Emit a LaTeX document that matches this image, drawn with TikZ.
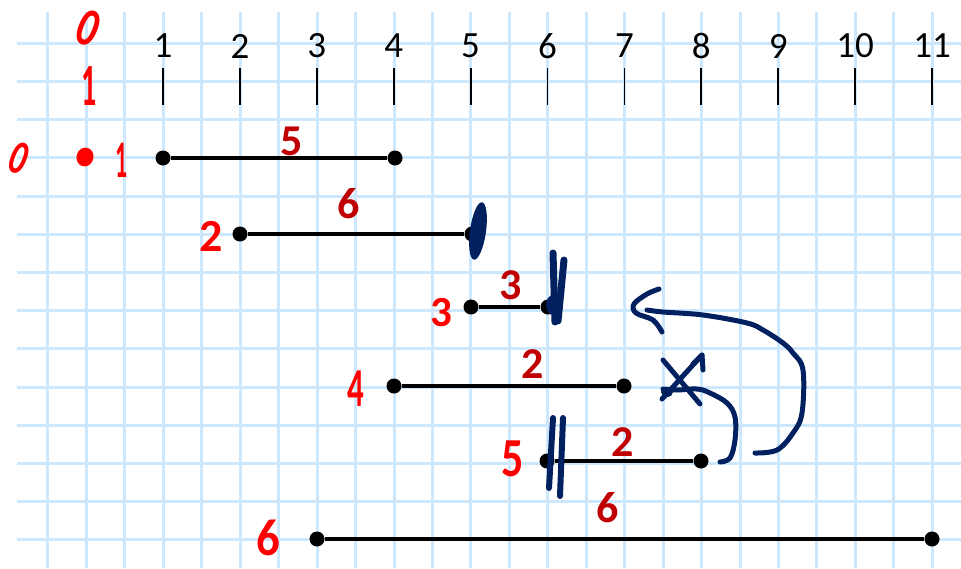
\documentclass[tikz,border=0pt]{standalone}
\usepackage{fontspec}
\setmainfont{Carlito}
\definecolor{gridblue}{RGB}{205,232,252}
\definecolor{navy}{RGB}{0,32,96}
\definecolor{redhand}{RGB}{255,0,0}
\definecolor{darkred}{RGB}{192,0,0}
\newcommand{\fsz}[1]{\fontsize{#1}{#1}\selectfont}
\tikzset{
  gridline/.style={draw=gridblue, line width=3pt},
  tickline/.style={draw=black, line width=1.8pt},
  ticklabel/.style={inner sep=0pt, font=\fsz{37}},
  enddot/.style={circle, fill=black, inner sep=0pt, minimum size=15pt},
  seg/.style={draw=black, line width=3.2pt},
  weight/.style={inner sep=0pt, text=darkred, font=\fsz{44}\bfseries},
  hand/.style={inner sep=0pt, text=redhand},
  navystroke/.style={draw=navy, line width=5pt, line cap=round, line join=round},
}
\begin{document}
\begin{tikzpicture}[x=1pt,y=-1pt]
\useasboundingbox (0,0) rectangle (961,568);
\fill[white] (0,0) rectangle (961,568);
% grid
\foreach \k in {-3,...,20}
  \draw[gridline] ({163.3+38.45*\k},12) -- ({163.3+38.45*\k},568);
\foreach \k in {0,...,13}
  \draw[gridline] (17,{43.3+38.2*\k}) -- (961,{43.3+38.2*\k});
% axis ticks
\foreach \i in {1,...,11}{
  \node[ticklabel] (t\i) at ({163+76.9*(\i-1)},46) {\i};
  \coordinate (tt\i) at ({163+76.9*(\i-1)},68);
  \coordinate (tb\i) at ({163+76.9*(\i-1)},105);
  \draw[tickline] (tt\i) -- (tb\i);
}
% interval end points
\node[enddot] (a1) at (163,158) {};
\node[enddot] (b1) at (395,158) {};
\node[enddot] (a2) at (240,234) {};
\node[enddot] (b2) at (472,234) {};
\node[enddot] (a3) at (471,307) {};
\node[enddot] (b3) at (548,307) {};
\node[enddot] (a4) at (394,386) {};
\node[enddot] (b4) at (624,386) {};
\node[enddot] (a5) at (547,461) {};
\node[enddot] (b5) at (701,461) {};
\node[enddot] (a6) at (317,539) {};
\node[enddot] (b6) at (932,539) {};
\foreach \r in {1,...,6} \draw[seg] (a\r) -- (b\r);
% weights
\node[weight] (w1) at (292,141) {5};
\node[weight] (w2) at (349,204) {6};
\node[weight] (w3) at (511,285) {3};
\node[weight] (w4) at (533,364) {2};
\node[weight] (w5) at (623,442) {2};
\node[weight] (w6) at (608,508) {6};
% red handwriting
\node[hand, font=\fsz{54}\bfseries, rotate=-22, xscale=0.75] (h0) at (89,28) {0};
\node[hand, font=\fsz{60}\bfseries, xscale=0.5] (h1) at (89,86) {1};
\node[hand, font=\fsz{48}\bfseries, rotate=-22, xscale=0.7] (r0) at (19,158) {0};
\fill[redhand, rotate around={-15:(85,157)}] (85,157) ellipse (8.5 and 9.5);
\node[hand, font=\fsz{53}\bfseries, xscale=0.45] (r1) at (122,160) {1};
\node[hand, font=\fsz{46}\bfseries] (l2) at (211,236) {2};
\node[hand, font=\fsz{43}\bfseries] (l3) at (441,313) {3};
\node[hand, font=\fsz{55}\bfseries, xscale=0.6] (l4) at (356,389) {4};
\node[hand, font=\fsz{55}\bfseries, xscale=0.8] (l5) at (513,459) {5};
\node[hand, font=\fsz{52}\bfseries, xscale=0.9] (l6) at (268,538) {6};
% navy marks on row ends
\fill[navy, rotate around={-8:(478,231)}] (478,231) ellipse (8 and 29);
\draw[navystroke, line width=7pt] (553,253) -- (555,322);
\draw[navystroke, line width=7pt] (564,260) -- (558,321);
\fill[navy] (553,305) ellipse (7 and 10);
\draw[navystroke, line width=6pt] (553,418) -- (549,488);
\draw[navystroke, line width=6pt] (563,418) -- (560,496);
% curved arrow from end of interval 5 back to row 3
\coordinate (bigs) at (755,453);
\coordinate (bige) at (647,310);
\draw[navystroke] plot[smooth, tension=0.6] coordinates {(bigs) (777,450) (793,433) (802,413) (803,370) (793,353) (783,343) (763,330) (747,323) (703,315) (663,312) (bige)};
\draw[navystroke] plot[smooth, tension=0.6] coordinates {(659,289) (647,294) (634,304) (636,313) (653,320) (662,332)};
% crossed-out arrow
\coordinate (xs) at (720,462);
\coordinate (xe) at (663,389);
\draw[navystroke] plot[smooth, tension=0.6] coordinates {(xs) (730,458) (735,440) (735,417) (727,403) (710,393) (697,389) (677,390) (xe)};
\fill[navy] (667,392) ellipse (6 and 5);
\draw[navystroke] (663,360) -- (700,404);
\draw[navystroke] (702,355) -- (662,399);
\draw[navystroke] (693,364) -- (702,355) -- (703,370);
\end{tikzpicture}
\end{document}
